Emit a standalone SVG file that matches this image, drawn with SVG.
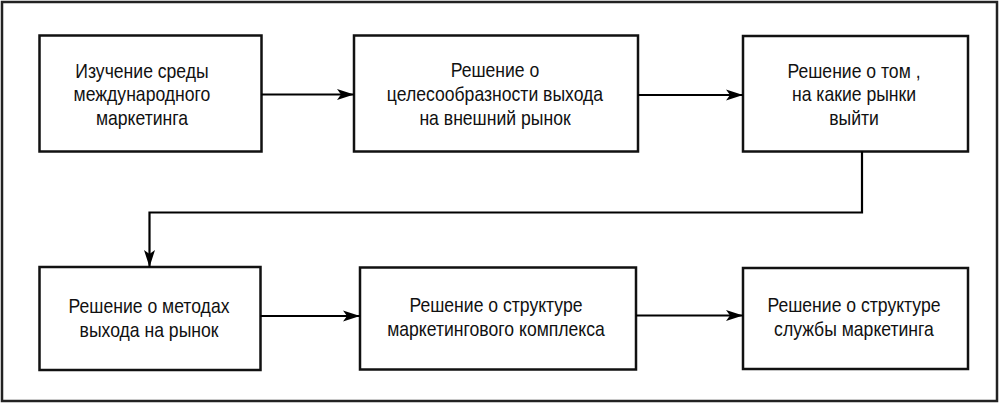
<svg xmlns="http://www.w3.org/2000/svg" width="1000" height="404" viewBox="0 0 1000 404">
<defs>
<marker id="arr" markerUnits="userSpaceOnUse" markerWidth="18" markerHeight="12" refX="17" refY="6" orient="auto">
<path d="M0,0.5 L17,6 L0,11.5 L4,6 Z" fill="#000"/>
</marker>
<style>
.frame{fill:#fff;stroke:#222;stroke-width:2.5}
.box{fill:#fff;stroke:#111;stroke-width:2.5}
.lbl{font-family:"Liberation Sans",Arial,sans-serif;font-size:20px;fill:#111;text-anchor:middle}
.conn{fill:none;stroke:#000;stroke-width:2.2}
</style>
</defs>
<rect class="frame" x="2" y="2" width="995" height="399"/>
<g id="n1">
<rect class="box" x="39.5" y="35.5" width="222" height="116"/>
<text class="lbl" transform="translate(142,77.5) scale(0.88,1)">Изучение среды</text>
<text class="lbl" transform="translate(142,101) scale(0.88,1)">международного</text>
<text class="lbl" transform="translate(142,124.5) scale(0.88,1)">маркетинга</text>
</g>
<g id="n2">
<rect class="box" x="354" y="35.5" width="284" height="116"/>
<text class="lbl" transform="translate(495,77) scale(0.88,1)">Решение о</text>
<text class="lbl" transform="translate(495,101) scale(0.88,1)">целесообразности выхода</text>
<text class="lbl" transform="translate(495,125) scale(0.88,1)">на внешний рынок</text>
</g>
<g id="n3">
<rect class="box" x="743" y="36" width="225" height="115.5"/>
<text class="lbl" transform="translate(854,77.5) scale(0.88,1)">Решение о том ,</text>
<text class="lbl" transform="translate(854,101) scale(0.88,1)">на какие рынки</text>
<text class="lbl" transform="translate(854,124.5) scale(0.88,1)">выйти</text>
</g>
<g id="n4">
<rect class="box" x="39.5" y="267" width="221" height="103"/>
<text class="lbl" transform="translate(149,313) scale(0.88,1)">Решение о методах</text>
<text class="lbl" transform="translate(149,336.5) scale(0.88,1)">выхода на рынок</text>
</g>
<g id="n5">
<rect class="box" x="360" y="267.5" width="276" height="102"/>
<text class="lbl" transform="translate(496,312) scale(0.88,1)">Решение о структуре</text>
<text class="lbl" transform="translate(496,335.5) scale(0.88,1)">маркетингового комплекса</text>
</g>
<g id="n6">
<rect class="box" x="743" y="268" width="225" height="101"/>
<text class="lbl" transform="translate(854,312) scale(0.88,1)">Решение о структуре</text>
<text class="lbl" transform="translate(854,335.5) scale(0.88,1)">службы маркетинга</text>
</g>
<g id="connectors">
<line class="conn" x1="261.5" y1="94.5" x2="354" y2="94.5" marker-end="url(#arr)"/>
<line class="conn" x1="638" y1="95" x2="743" y2="95" marker-end="url(#arr)"/>
<polyline class="conn" points="862,151.5 862,212.5 149.5,212.5 149.5,267" marker-end="url(#arr)"/>
<line class="conn" x1="260.5" y1="316" x2="360" y2="316" marker-end="url(#arr)"/>
<line class="conn" x1="636" y1="315.5" x2="743" y2="315.5" marker-end="url(#arr)"/>
</g>
</svg>
